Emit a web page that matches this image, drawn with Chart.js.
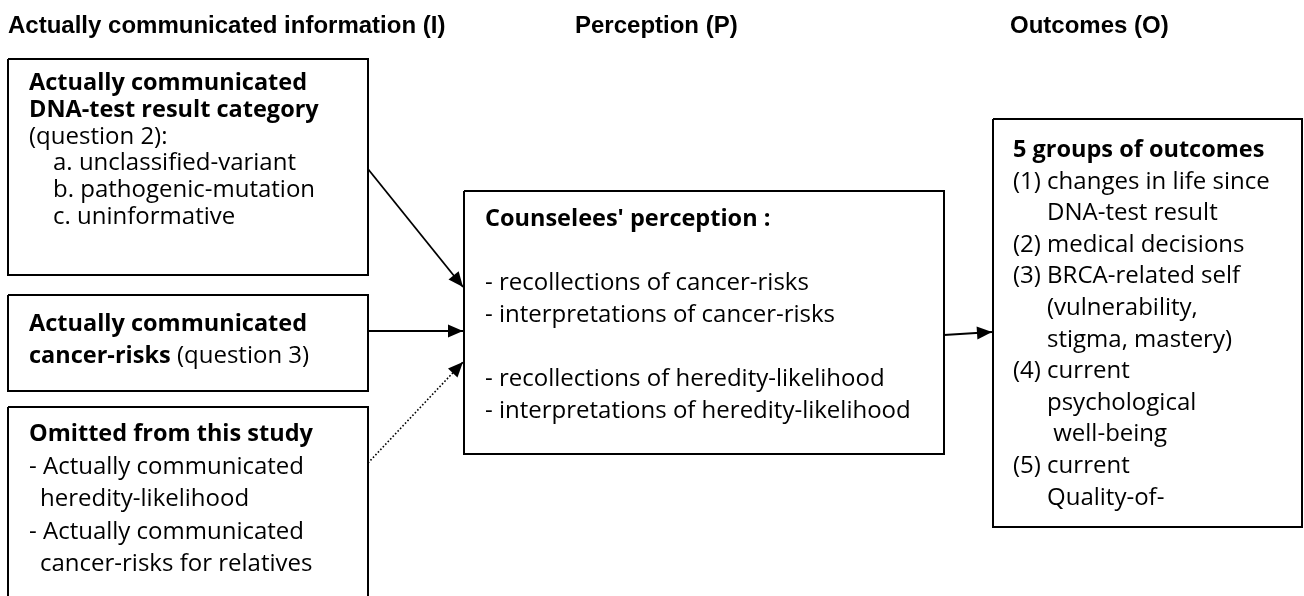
<!DOCTYPE html>
<html>
<head>
<meta charset="utf-8">
<script src="https://cdn.jsdelivr.net/npm/chart.js@4.4.1/dist/chart.umd.min.js"></script>
<style>
  html, body { margin: 0; padding: 0; background: #fff; }
</style>
</head>
<body>
<canvas id="diagrama" width="1304" height="596"></canvas>
<script>
// Column titles
const columnTitles = ['Actually communicated information (I)', 'Perception (P)', 'Outcomes (O)'];

// Text of every box, one string per line (**...** = bold)
const dnaResultLines = [
  '**Actually communicated**',
  '**DNA-test result category**',
  '(question 2):',
  'a. unclassified-variant',
  'b. pathogenic-mutation',
  'c. uninformative'
];
const cancerRiskLines = [
  '**Actually communicated**',
  '**cancer-risks** (question 3)'
];
const omittedLines = [
  '**Omitted from this study**',
  '- Actually communicated',
  'heredity-likelihood',
  '- Actually communicated',
  'cancer-risks for relatives'
];
const perceptionLines = [
  "**Counselees' perception :**",
  '',
  '- recollections of cancer-risks',
  '- interpretations of cancer-risks',
  '',
  '- recollections of heredity-likelihood',
  '- interpretations of heredity-likelihood'
];
const outcomeLines = [
  '**5 groups of outcomes**',
  '(1) changes in life since',
  'DNA-test result',
  '(2) medical decisions',
  '(3) BRCA-related self',
  '(vulnerability,',
  'stigma, mastery)',
  '(4) current',
  'psychological',
  ' well-being',
  '(5) current',
  'Quality-of-'
];

// Layout (diagram units = pixels of the 1304x596 picture)
const titleX = [8, 575, 1010];
const titleBaseline = 33;
const boxLayout = [
  { lines: dnaResultLines,  x0: 8,   y0: 59,  x1: 368,  y1: 275, tx: 29,   first: 90,  step: 26.8, indent: [0, 0, 0, 24, 24, 24] },
  { lines: cancerRiskLines, x0: 8,   y0: 295, x1: 368,  y1: 391, tx: 29,   first: 331, step: 32,   indent: [0, 0] },
  { lines: omittedLines,    x0: 8,   y0: 407, x1: 368,  y1: 612, tx: 29,   first: 441, step: 32.5, indent: [0, 0, 11, 0, 11] },
  { lines: perceptionLines, x0: 464, y0: 191, x1: 944,  y1: 454, tx: 485,  first: 226, step: 32,   indent: [0, 0, 0, 0, 0, 0, 0] },
  { lines: outcomeLines,    x0: 993, y0: 119, x1: 1302, y1: 527, tx: 1013, first: 157, step: 31.6, indent: [0, 0, 34, 0, 0, 34, 34, 0, 34, 34, 0, 34] }
];
const arrowLinks = [
  { from: [368, 169], to: [463, 287], dotted: false },
  { from: [368, 331], to: [463, 331], dotted: false },
  { from: [368, 463], to: [463, 362], dotted: true },
  { from: [944, 335], to: [992, 332], dotted: false }
];

const datasets = [];
boxLayout.forEach(b => {
  datasets.push({
    data: [
      { x: b.x0, y: b.y0 }, { x: b.x1, y: b.y0 }, { x: b.x1, y: b.y1 },
      { x: b.x0, y: b.y1 }, { x: b.x0, y: b.y0 }
    ],
    showLine: true, borderColor: '#000', borderWidth: 2, pointRadius: 0,
    borderJoinStyle: 'miter', fill: false
  });
});
arrowLinks.forEach(a => {
  datasets.push({
    data: [{ x: a.from[0], y: a.from[1] }, { x: a.to[0], y: a.to[1] }],
    showLine: true, borderColor: '#000', borderWidth: a.dotted ? 1.6 : 1.8,
    borderDash: a.dotted ? [1.6, 2] : [], pointRadius: 0, fill: false,
    arrow: true
  });
});

function drawRichLine(ctx, str, x, y) {
  const parts = str.split('**');
  let cx = x;
  parts.forEach((p, i) => {
    if (!p) return;
    ctx.font = (i % 2 === 1) ? '700 23.5px "Open Sans"' : '400 24px "Open Sans"';
    ctx.fillText(p, cx, y);
    cx += ctx.measureText(p).width;
  });
}

const diagramPlugin = {
  id: 'diagram',
  afterDatasetsDraw(chart) {
    const { ctx, scales: { x, y } } = chart;
    ctx.save();
    ctx.fillStyle = '#000';

    // arrowheads
    chart.data.datasets.forEach(ds => {
      if (!ds.arrow) return;
      const a = ds.data[0], b = ds.data[1];
      const ax = x.getPixelForValue(a.x), ay = y.getPixelForValue(a.y);
      const bx = x.getPixelForValue(b.x), by = y.getPixelForValue(b.y);
      const ang = Math.atan2(by - ay, bx - ax);
      const len = 15, half = 6.5;
      ctx.beginPath();
      ctx.moveTo(bx, by);
      ctx.lineTo(bx - len * Math.cos(ang) + half * Math.sin(ang), by - len * Math.sin(ang) - half * Math.cos(ang));
      ctx.lineTo(bx - len * Math.cos(ang) - half * Math.sin(ang), by - len * Math.sin(ang) + half * Math.cos(ang));
      ctx.closePath();
      ctx.fill();
    });

    // column titles
    ctx.textBaseline = 'alphabetic';
    ctx.textAlign = 'left';
    ctx.font = 'bold 24px "Liberation Sans", Arial, sans-serif';
    columnTitles.forEach((t, i) => {
      ctx.fillText(t, x.getPixelForValue(titleX[i]), y.getPixelForValue(titleBaseline));
    });

    // box texts
    boxLayout.forEach(b => {
      b.lines.forEach((line, i) => {
        if (!line) return;
        const px = x.getPixelForValue(b.tx + b.indent[i]);
        const py = y.getPixelForValue(b.first + i * b.step);
        drawRichLine(ctx, line, px, py);
      });
    });
    ctx.restore();
  }
};

new Chart(document.getElementById('diagrama').getContext('2d'), {
  type: 'scatter',
  data: { datasets },
  options: {
    responsive: false,
    animation: false,
    events: [],
    layout: { padding: 0 },
    plugins: { legend: { display: false }, tooltip: { enabled: false } },
    scales: {
      x: { type: 'linear', min: 0, max: 1304, display: false },
      y: { type: 'linear', min: 0, max: 596, reverse: true, display: false }
    }
  },
  plugins: [diagramPlugin]
});
</script>
</body>
</html>
